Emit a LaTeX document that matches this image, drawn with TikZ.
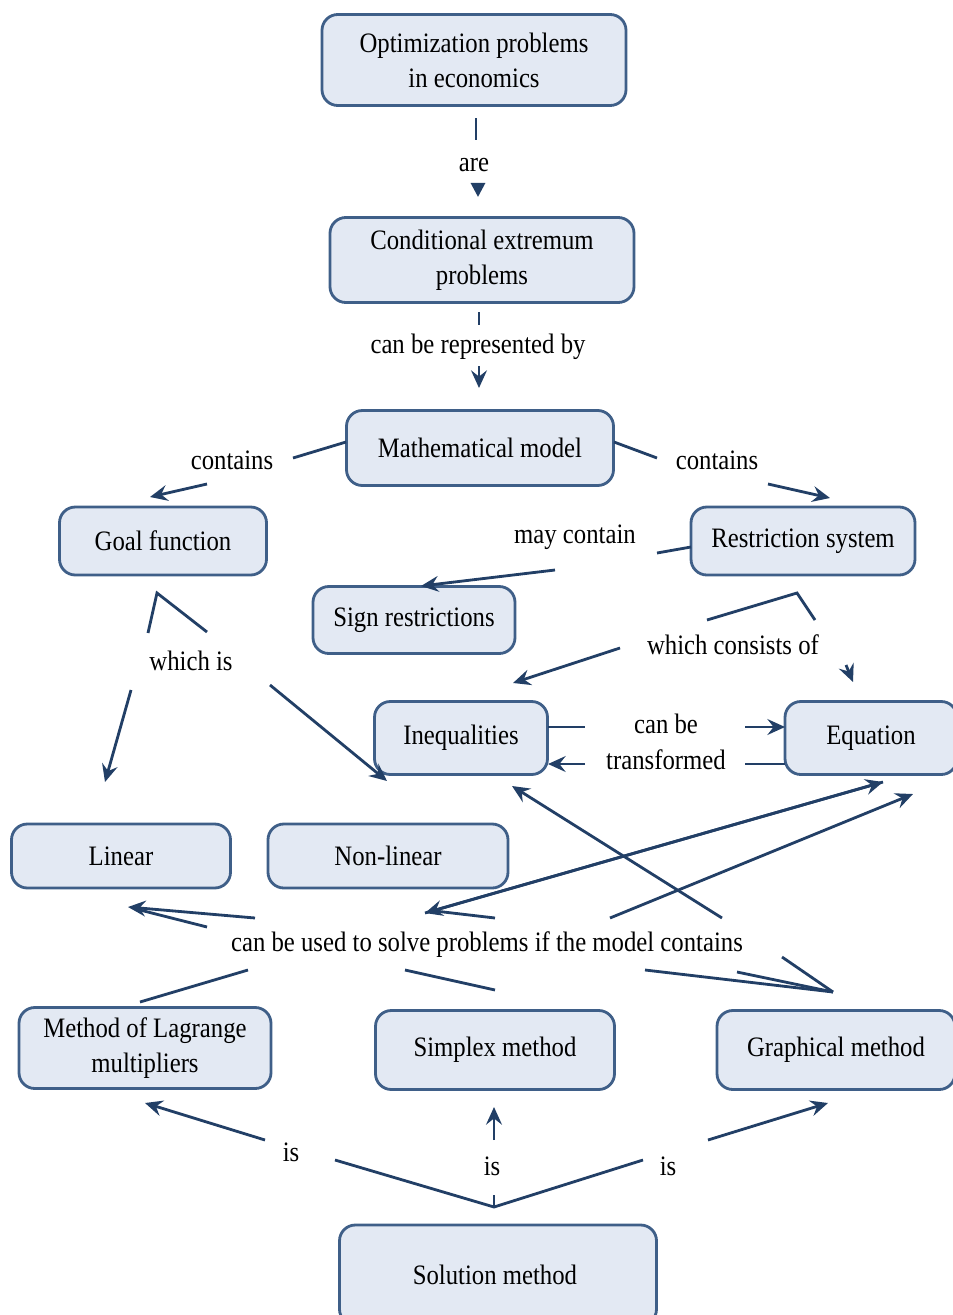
\documentclass[tikz,border=0pt]{standalone}
\usepackage{fontspec}
\setmainfont{Liberation Serif}[FakeStretch=0.88]
\usetikzlibrary{arrows.meta,positioning}
\definecolor{boxfill}{HTML}{E3E9F3}
\definecolor{boxline}{HTML}{3F5F88}
\definecolor{linkcol}{HTML}{223F66}
\newlength\px
\setlength\px{0.02cm}
\tikzset{
  concept/.style={draw=boxline, fill=boxfill, line width=1.6pt, rounded corners=9pt,
    align=center, font=\fontsize{16}{20}\selectfont, inner sep=2pt},
  linkword/.style={font=\fontsize{16}{20.5}\selectfont, align=center, inner sep=1pt},
  link/.style={draw=linkcol, line width=1.6pt},
  arr/.style={link, -{Stealth[length=10pt,width=9pt,inset=3.5pt]}},
}
\begin{document}
\begin{tikzpicture}[x=0.02cm,y=-0.02cm]
    \useasboundingbox (0,0) rectangle (953,1315);
    % concepts
    \foreach \n/\x/\y/\w/\h/\t in {
        opt/474/60/304/91/{Optimization problems\\in economics},
        cond/482/260/304/85/{Conditional extremum\\problems},
        model/480/448/267/75/{Mathematical model},
        goal/163/541/207/68/{Goal function},
        restr/803/541/224/68/{Restriction system},
        sign/414/620/202/67/{Sign restrictions},
        ineq/461/738/173/73/{Inequalities},
        eqn/871/738/172/73/{Equation},
        linear/121/856/219/64/{Linear},
        nonlin/388/856/240/64/{Non-linear},
        lagr/145/1048/252/81/{Method of Lagrange\\multipliers},
        simplex/495/1050/239/79/{Simplex method},
        graph/836/1050/238/79/{Graphical method},
        solution/498/1275/317/100/{Solution method}
    }
    {
        \node[concept, minimum width=\w\px, minimum height=\h\px] (\n) at (\x,\y) {\t};
    };
    % linking words
    \node[linkword] (lAre) at (474,165) {are};
    \node[linkword] (lRepr) at (478,347) {can be represented by};
    \node[linkword] (lContL) at (232,460) {contains};
    \node[linkword] (lContR) at (717,460) {contains};
    \node[linkword] (lMay) at (575,537) {may contain};
    \node[linkword] (lWhich) at (191,661) {which is};
    \node[linkword] (lConsist) at (733,645) {which consists of};
    \node[linkword] (lTrans) at (666,742) {can be\\transformed};
    \node[linkword] (lUsed) at (487,945) {can be used to solve problems if the model contains};
    \node[linkword] (lIsL) at (291,1152) {is};
    \node[linkword] (lIsM) at (492,1166) {is};
    \node[linkword] (lIsR) at (668,1166) {is};
    % top chain
    \draw[link] (476,118) -- (476,140);
    \draw[link, -{Triangle[length=8pt,width=8pt]}] (478,186) -- (478,197);
    \draw[link] (479,312) -- (479,325);
    \draw[arr] (479,366) -- (479,388);
    % model
    \draw[link] (346,442) -- (293,458);
    \draw[arr] (207,484) -- (150,497);
    \draw[link] (614,442) -- (657,458);
    \draw[arr] (768,484) -- (830,498);
    \draw[link] (691,547) -- (657,553);
    \draw[arr] (555,570) -- (421,586);
    % goal function
    \coordinate (goalTip) at (157,593);
    \draw[link] (148,633) -- (goalTip) -- (207,632);
    \draw[arr] (131,690) -- (105,782);
    \draw[arr] (270,685) -- (387,781);
    % restriction system
    \coordinate (restrTip) at (797,593);
    \draw[link] (707,620) -- (restrTip) -- (815,620);
    \draw[arr] (620,648) -- (513,683);
    \draw[arr] (846,665) -- (853,682);
    % transformed
    \draw[link] (548,727) -- (585,727);
    \draw[arr] (745,727) -- (785,727);
    \draw[link] (785,764) -- (745,764);
    \draw[arr] (585,764) -- (548,764);
    % methods
    \draw[arr] (255,918) -- (128,907);
    \draw[link] (207,927) -- (140,910);
    \draw[arr] (883,782) -- (425,913);
    \draw[arr] (425,913) -- (883,782);
    \draw[link] (435,911) -- (495,918);
    \draw[arr] (610,918) -- (913,794);
    \draw[arr] (722,918) -- (512,786);
    \coordinate (graphTip) at (833,992);
    \draw[link] (645,970) -- (graphTip);
    \draw[link] (737,972) -- (graphTip);
    \draw[link] (782,957) -- (graphTip);
    \draw[link] (140,1002) -- (248,970);
    \draw[link] (405,970) -- (495,990);
    % solution method
    \coordinate (solTip) at (494,1207);
    \draw[link] (335,1160) -- (solTip) -- (643,1160);
    \draw[link] (494,1195) -- (solTip);
    \draw[arr] (265,1140) -- (145,1103);
    \draw[arr] (494,1140) -- (494,1107);
    \draw[arr] (708,1140) -- (828,1103);
\end{tikzpicture}
\end{document}
